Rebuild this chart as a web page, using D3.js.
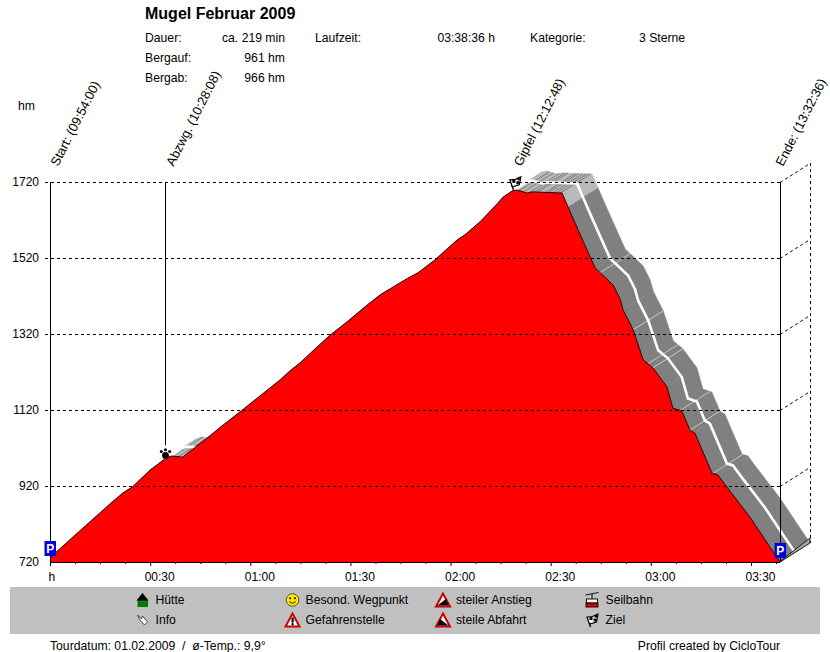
<!DOCTYPE html>
<html>
<head>
<meta charset="utf-8">
<script src="https://d3js.org/d3.v7.min.js"></script>
<style>
  html, body { margin: 0; padding: 0; background: #fff; }
  text { font-family: "Liberation Sans", Arial, sans-serif; font-size: 12.2px; fill: #000; white-space: pre; }
</style>
</head>
<body>
<div id="chart"></div>
<script>
// profile: minutes since start / altitude in hm
const minutes = [0, 6.9, 12.9, 18, 21.9, 24.6, 30, 34.8, 36.5, 39.8, 41.3, 47.9, 51.5, 56.9, 62.9, 68.9, 71.9, 74.9, 78.8, 83.9, 89, 95, 98.9, 102.8, 107.2, 110.2, 115.3, 121.9, 124.3, 128.8, 133.9, 135.7, 138.4, 139.9, 142.9, 144.4, 153.4, 155.2, 158.2, 161.8, 163.3, 168.7, 170.8, 171.7, 174.7, 177.7, 180.6, 184.8, 186.6, 189.3, 191.7, 193.2, 198.3, 200.1, 202.8, 207.6, 209.7, 215.7, 218.7];
const altitude = [731, 786, 833, 873, 902, 917, 962, 994, 999, 996, 1007, 1052, 1078, 1115, 1157, 1199, 1223, 1244, 1276, 1317, 1352, 1396, 1423, 1444, 1467, 1481, 1515, 1567, 1581, 1615, 1662, 1680, 1696, 1699, 1691, 1694, 1691, 1654, 1594, 1523, 1494, 1449, 1412, 1383, 1331, 1252, 1231, 1181, 1125, 1117, 1067, 1059, 954, 949, 917, 862, 838, 759, 720];

const yTicks = [720, 920, 1120, 1320, 1520, 1720];
const xMajor = [0, 30, 60, 90, 120, 150, 180, 210];
const xLabels = ["h", "00:30", "01:00", "01:30", "02:00", "02:30", "03:00", "03:30"];
const xMinor = [7.5, 15, 22.5, 37.5, 45, 52.5, 67.5, 75, 82.5, 97.5, 105, 112.5, 127.5, 135, 142.5, 157.5, 165, 172.5, 187.5, 195, 202.5, 217.5];

const wayNames = ["Start: (09:54:00)", "Abzwg. (10:28:08)", "Gipfel (12:12:48)", "Ende: (13:32:36)"];
const wayMinutes = [0, 34.6, 138.8, 218.7];

// light cross lines on the road and streaks on the flat parts
const seamMinutes = [164.8, 174.7, 179.1, 180.6, 188.7, 191.7, 198.6];
const streakMinutes = [36.8, 38.4, 40.2, 140.6, 141.8, 143.6, 145.2, 146.2, 148.4, 149.3, 150.6, 151.8, 152.9];

const legendNames = ["Hütte", "Info", "Besond. Wegpunkt", "Gefahrenstelle", "steiler Anstieg", "steile Abfahrt", "Seilbahn", "Ziel"];
const legendIcons = ["hut", "pin", "smiley", "danger", "up", "down", "cable", "flag"];

const width = 830, height = 652;
const depthX = 30, depthY = -19;

const x = d3.scaleLinear().domain([0, 210]).range([50, 751]);
const y = d3.scaleLinear().domain([720, 1720]).range([562, 182]);
const altAt = d3.scaleLinear().domain(minutes).range(altitude);
const endX = x(minutes[minutes.length - 1]);

const svg = d3.select("#chart").append("svg")
  .attr("width", width)
  .attr("height", height)
  .style("display", "block");

// header
svg.append("text").attr("x", 145).attr("y", 19).text("Mugel Februar 2009")
  .style("font-size", "16px").style("font-weight", "bold");

const info = [
  ["Dauer:", 145, 42, "start"], ["ca. 219 min", 285, 42, "end"],
  ["Bergauf:", 145, 62, "start"], ["961 hm", 285, 62, "end"],
  ["Bergab:", 145, 82, "start"], ["966 hm", 285, 82, "end"],
  ["Laufzeit:", 315, 42, "start"], ["03:38:36 h", 495, 42, "end"],
  ["Kategorie:", 530, 42, "start"], ["3 Sterne", 639, 42, "start"]
];
svg.selectAll("text.info").data(info).enter().append("text")
  .attr("class", "info")
  .attr("x", d => d[1]).attr("y", d => d[2])
  .attr("text-anchor", d => d[3])
  .text(d => d[0]);

svg.append("text").attr("x", 18).attr("y", 110).text("hm");

// the road behind the profile, one piece per segment
const segments = d3.range(minutes.length - 1);
function isFlat(i) {
  return minutes[i] < 154;
}
function quad(i) {
  const x0 = x(minutes[i]), y0 = y(altitude[i]);
  const x1 = x(minutes[i + 1]), y1 = y(altitude[i + 1]);
  return `M${x0},${y0}L${x1},${y1}L${x1 + depthX},${y1 + depthY}L${x0 + depthX},${y0 + depthY}Z`;
}
svg.append("g").selectAll("path").data(segments).enter().append("path")
  .attr("d", quad)
  .attr("fill", i => isFlat(i) ? "#b9b9b9" : "#808080")
  .attr("stroke", i => isFlat(i) ? "#b9b9b9" : "#808080")
  .attr("stroke-width", 0.6);

svg.append("g").selectAll("line").data(streakMinutes).enter().append("line")
  .attr("x1", d => x(d)).attr("y1", d => y(altAt(d)))
  .attr("x2", d => x(d) + depthX).attr("y2", d => y(altAt(d)) + depthY)
  .attr("stroke", "#8a8a8a").attr("stroke-width", 1.2);

svg.append("g").selectAll("line").data(seamMinutes).enter().append("line")
  .attr("x1", d => x(d)).attr("y1", d => y(altAt(d)))
  .attr("x2", d => x(d) + depthX).attr("y2", d => y(altAt(d)) + depthY)
  .attr("stroke", "#c8c8c8").attr("stroke-width", 1);

const line = d3.line().x((d, i) => x(minutes[i])).y((d, i) => y(altitude[i]));

svg.append("path").datum(altitude)
  .attr("d", d3.line().x((d, i) => x(minutes[i]) + depthX / 2).y((d, i) => y(altitude[i]) + depthY / 2))
  .attr("fill", "none").attr("stroke", "#fff").attr("stroke-width", 2.6);

// end face of the road
svg.append("path")
  .attr("d", `M${endX},${y(720)}L${endX + depthX},${y(720) + depthY}L${endX + depthX},${y(720) + depthY - 5}L${endX + 3},${y(720) - 3}Z`)
  .attr("fill", "#a6a6a6").attr("stroke", "#000").attr("stroke-width", 0.8);

// red profile
const area = d3.area()
  .x((d, i) => x(minutes[i]))
  .y0(y(720))
  .y1((d, i) => y(altitude[i]));
svg.append("path").datum(altitude).attr("d", area).attr("fill", "#ff0000");
svg.append("path").datum(altitude).attr("d", line)
  .attr("fill", "none").attr("stroke", "#000").attr("stroke-width", 0.9);

// grid with the 3d side wall
const grid = svg.append("g")
  .attr("fill", "none").attr("stroke", "#000").attr("stroke-dasharray", "3,3");
const gridTicks = yTicks.filter(d => d > 720);
grid.selectAll("line.h").data(gridTicks).enter().append("line")
  .attr("class", "h")
  .attr("x1", 45).attr("x2", endX)
  .attr("y1", d => y(d) + 0.5).attr("y2", d => y(d) + 0.5);
grid.selectAll("line.d").data(gridTicks).enter().append("line")
  .attr("class", "d")
  .attr("x1", endX).attr("x2", endX + depthX)
  .attr("y1", d => y(d) + 0.5).attr("y2", d => y(d) + depthY + 0.5);
grid.append("line")
  .attr("x1", endX + depthX + 0.5).attr("x2", endX + depthX + 0.5)
  .attr("y1", y(1720) + depthY).attr("y2", y(720) + depthY);

// way point lines
svg.append("g").selectAll("line").data(wayMinutes).enter().append("line")
  .attr("x1", d => Math.round(x(d)) + 0.5).attr("x2", d => Math.round(x(d)) + 0.5)
  .attr("y1", y(1720))
  .attr("y2", (d, i) => i === 0 || i === 3 ? y(720) : (i === 1 ? y(altAt(d)) - 13 : y(1720)))
  .attr("stroke", "#000");

svg.append("g").selectAll("text").data(wayNames).enter().append("text")
  .attr("transform", (d, i) => `translate(${x(wayMinutes[i]) + (i === 3 ? 3 : 8)},167) rotate(-63)`)
  .style("font-size", "12.9px")
  .text(d => d);

// axes
const xAxis = d3.axisBottom(x).tickValues(xMajor).tickSize(4)
  .tickFormat((d, i) => xLabels[i]);
const gx = svg.append("g").attr("transform", `translate(0,${y(720)})`).call(xAxis);
gx.select(".domain").attr("d", `M${x(0)},0.5H${endX}`);
gx.selectAll("text")
  .attr("y", 19).attr("dy", 0)
  .attr("text-anchor", "start")
  .attr("dx", (d, i) => i === 0 ? -2 : -6)
  .style("font-size", "12px");

const gxMinor = svg.append("g").attr("transform", `translate(0,${y(720)})`)
  .call(d3.axisBottom(x).tickValues(xMinor).tickSize(2).tickFormat(""));
gxMinor.select(".domain").remove();

const gy = svg.append("g").attr("transform", "translate(50,0)")
  .call(d3.axisLeft(y).tickValues(yTicks).tickSize(0).tickPadding(11).tickFormat(d3.format("d")));
gy.select(".domain").remove();
gy.selectAll("text").style("font-size", "12px");

// parking markers
[0, minutes.length - 1].forEach((idx, k) => {
  const px = x(minutes[idx]);
  const top = k === 0 ? 541 : 543;
  svg.append("rect").attr("x", px - 5.5).attr("y", top).attr("width", 11.5).attr("height", 15).attr("fill", "#0000e0");
  svg.append("text").attr("x", px + 0.2).attr("y", top + 11.5).attr("text-anchor", "middle")
    .style("font-size", "12px").style("font-weight", "bold").style("fill", "#fff").text("P");
});

// icons, drawn around their own centre
const icons = {
  hut(g) {
    g.append("rect").attr("x", -5).attr("y", 0).attr("width", 10.5).attr("height", 7).attr("fill", "#007a00");
    g.append("path").attr("d", "M-6,0.5L0,-7L6,0.5Z").attr("fill", "#000");
  },
  pin(g) {
    g.append("path").attr("d", "M-5,-5L-1,-1L0,-4L5,2L2,5L-3,-0.5Z").attr("fill", "#fff").attr("stroke", "#333").attr("stroke-width", 0.9);
  },
  smiley(g) {
    g.append("circle").attr("r", 6.3).attr("fill", "#ffe600").attr("stroke", "#333").attr("stroke-width", 0.8);
    g.append("circle").attr("cx", -2.3).attr("cy", -1.8).attr("r", 1).attr("fill", "#000");
    g.append("circle").attr("cx", 2.3).attr("cy", -1.8).attr("r", 1).attr("fill", "#000");
    g.append("path").attr("d", "M-3.2,1.5Q0,4.8 3.2,1.5").attr("fill", "none").attr("stroke", "#000").attr("stroke-width", 0.9);
  },
  danger(g) {
    g.append("path").attr("d", "M0,-6.5L7,6.5H-7Z").attr("fill", "#fff").attr("stroke", "#d00000").attr("stroke-width", 2);
    g.append("rect").attr("x", -1).attr("y", -2.5).attr("width", 2.2).attr("height", 5).attr("fill", "#000");
    g.append("rect").attr("x", -1).attr("y", 3.2).attr("width", 2.2).attr("height", 2).attr("fill", "#000");
  },
  up(g) {
    g.append("path").attr("d", "M0,-6.5L7,6.5H-7Z").attr("fill", "#fff").attr("stroke", "#c80000").attr("stroke-width", 2);
    g.append("path").attr("d", "M-5.5,5.5L3,-1L5.5,5.5Z").attr("fill", "#000");
  },
  down(g) {
    g.append("path").attr("d", "M0,-6.5L7,6.5H-7Z").attr("fill", "#fff").attr("stroke", "#c80000").attr("stroke-width", 2);
    g.append("path").attr("d", "M-5.5,5.5L-3,-1L5.5,5.5Z").attr("fill", "#000");
  },
  cable(g) {
    g.append("line").attr("x1", -7).attr("y1", -5).attr("x2", 6).attr("y2", -7.5).attr("stroke", "#000").attr("stroke-width", 0.9);
    g.append("line").attr("x1", -0.5).attr("y1", -6).attr("x2", -0.5).attr("y2", -1).attr("stroke", "#000");
    g.append("rect").attr("x", -6).attr("y", -1).attr("width", 11).attr("height", 4).attr("fill", "#fff").attr("stroke", "#000").attr("stroke-width", 0.9);
    g.append("rect").attr("x", -6.5).attr("y", 3).attr("width", 12).attr("height", 4).attr("fill", "#d00000").attr("stroke", "#000").attr("stroke-width", 0.9);
  },
  flag(g) {
    g.append("path").attr("d", "M-5,-3L-2,7").attr("stroke", "#000").attr("stroke-width", 1.4);
    g.append("path").attr("d", "M-5.5,-3L0,-3.5L5.5,-6L4,2L-3,4Z").attr("fill", "#fff").attr("stroke", "#000").attr("stroke-width", 1.2);
    g.append("rect").attr("x", -3).attr("y", -3).attr("width", 3).attr("height", 3).attr("fill", "#000");
    g.append("rect").attr("x", 1).attr("y", -1.5).attr("width", 3).attr("height", 3).attr("fill", "#000");
    g.append("rect").attr("x", 2).attr("y", -5).attr("width", 2.5).attr("height", 2.5).attr("fill", "#000");
  },
  paw(g) {
    g.append("circle").attr("r", 3.4).attr("cy", 1).attr("fill", "#000");
    [[-4.2, -3], [0, -4.6], [4.2, -3]].forEach(t => {
      g.append("circle").attr("cx", t[0]).attr("cy", t[1]).attr("r", 1.5).attr("fill", "#000");
    });
  }
};

// markers on the profile
icons.paw(svg.append("g").attr("transform", `translate(${x(wayMinutes[1])},${y(altAt(wayMinutes[1])) - 4})`));
icons.flag(svg.append("g").attr("transform", `translate(${x(wayMinutes[2]) + 2},${y(altAt(wayMinutes[2])) - 8})`));

// legend panel
svg.append("rect").attr("x", 10).attr("y", 587).attr("width", 810).attr("height", 47).attr("fill", "#c0c0c0");

const legendCol = [142.5, 292.5, 443, 592.5];
const legendRow = [600, 620];
const legend = svg.append("g").selectAll("g").data(legendNames).enter().append("g")
  .attr("transform", (d, i) => `translate(${legendCol[Math.floor(i / 2)]},${legendRow[i % 2]})`);
legend.append("text").attr("x", 13).attr("y", 4).text(d => d);
legend.each(function (d, i) { icons[legendIcons[i]](d3.select(this)); });

// footer
svg.append("text").attr("x", 50).attr("y", 650).text("Tourdatum: 01.02.2009  /  ø-Temp.: 9,9°");
svg.append("text").attr("x", 780).attr("y", 650).attr("text-anchor", "end").text("Profil created by CicloTour");
</script>
</body>
</html>
